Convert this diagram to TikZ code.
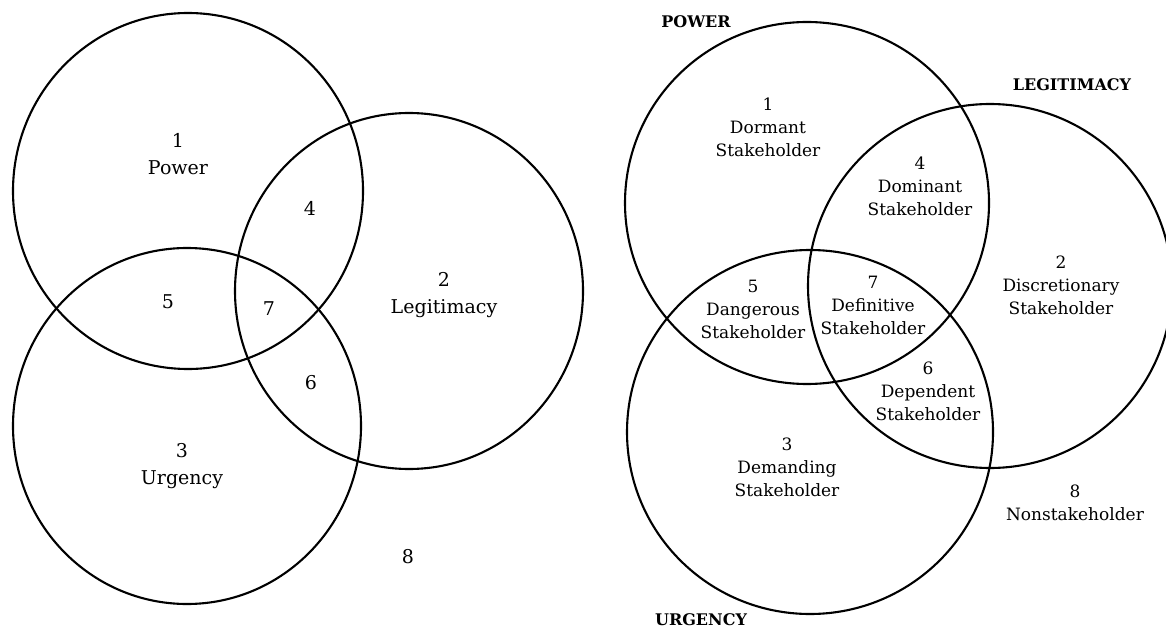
\documentclass[tikz,border=0pt]{standalone}
\usepackage{fontspec}
\setmainfont{DejaVu Serif}
\begin{document}
\begin{tikzpicture}[x=1pt,y=-1pt,
  ring/.style={line width=2.1pt},
  big/.style={align=center,font=\fontsize{19}{27}\selectfont,inner sep=0pt},
  lbl/.style={align=center,font=\fontsize{17}{23}\selectfont,inner sep=0pt},
  head/.style={font=\fontsize{16}{18}\selectfont\bfseries,inner sep=0pt}]
\useasboundingbox (0,0) rectangle (1166,628);
% left diagram
\draw[ring] (188,191) ellipse [x radius=175pt, y radius=178pt];
\draw[ring] (409,291) ellipse [x radius=174pt, y radius=178pt];
\draw[ring] (187,426) ellipse [x radius=174pt, y radius=178pt];
\node[big] (l1) at (178,154) {1\\Power};
\node[big] (l2) at (444,295) {2\\Legitimacy};
\node[big] (l3) at (182,466) {3\\Urgency};
\node[big] (l4) at (310,208) {4};
\node[big] (l5) at (168,302) {5};
\node[big] (l6) at (311,383) {6};
\node[big] (l7) at (269,309) {7};
\node[big] (l8) at (408,557) {8};
% right diagram
\draw[ring] (807,203) ellipse [x radius=182pt, y radius=181pt];
\draw[ring] (990,286) ellipse [x radius=182pt, y radius=182pt];
\draw[ring] (810,432) ellipse [x radius=183pt, y radius=182pt];
\node[head] (hp) at (696,22) {POWER};
\node[head] (hl) at (1072,85) {LEGITIMACY};
\node[head] (hu) at (701,620) {URGENCY};
\node[lbl] (r1) at (768,127) {1\\Dormant\\Stakeholder};
\node[lbl] (r4) at (920,186) {4\\Dominant\\Stakeholder};
\node[lbl] (r2) at (1061,285) {2\\Discretionary\\Stakeholder};
\node[lbl] (r5) at (753,309) {5\\Dangerous\\Stakeholder};
\node[lbl] (r7) at (873,305) {7\\Definitive\\Stakeholder};
\node[lbl] (r6) at (928,391) {6\\Dependent\\Stakeholder};
\node[lbl] (r3) at (787,467) {3\\Demanding\\Stakeholder};
\node[lbl] (r8) at (1075,503) {8\\Nonstakeholder};
\end{tikzpicture}
\end{document}
